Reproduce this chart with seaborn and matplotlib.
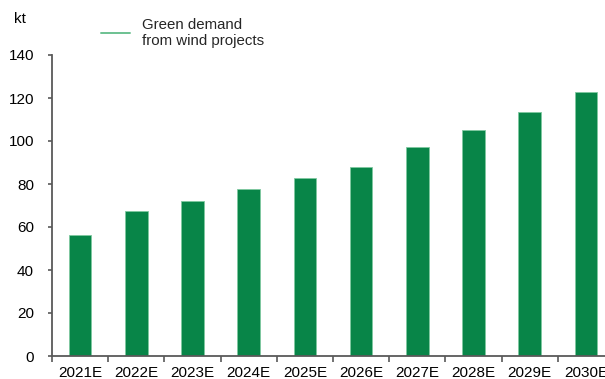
import matplotlib
matplotlib.use("Agg")
import matplotlib.pyplot as plt
from matplotlib.lines import Line2D
from matplotlib.ticker import FixedLocator
import seaborn as sns
import pandas as pd
import numpy as np

# Data
years = ["2021E", "2022E", "2023E", "2024E", "2025E",
         "2026E", "2027E", "2028E", "2029E", "2030E"]
demand_kt = [56.3, 67.4, 72.1, 77.7, 82.9, 88.0, 97.3, 105.2, 113.6, 122.9]
y_ticks = [0, 20, 40, 60, 80, 100, 120, 140]
series_label = "Green demand\nfrom wind projects"
unit_label = "kt"

BAR_GREEN = "#088548"
LINE_GREEN = "#6cc192"
AXIS_GREY = "#595959"

sns.set_theme(style="white")
plt.rcParams["font.family"] = ["Liberation Sans", "DejaVu Sans"]

df = pd.DataFrame({"year": years, "demand": demand_kt})

fig = plt.figure(figsize=(6.05, 3.79), dpi=100)
ax = fig.add_axes([52 / 605, 23 / 379, 562 / 605, 301 / 379])

sns.barplot(data=df, x="year", y="demand", color=BAR_GREEN, width=0.4,
            edgecolor="#7fc9a0", linewidth=0.6, saturation=1, ax=ax)

ax.set_ylim(0, 140)
ax.set_xlim(-0.5, len(years) - 0.5)
ax.set_yticks(y_ticks)
ax.set_yticklabels([str(v) for v in y_ticks])
ax.set_xlabel("")
ax.set_ylabel("")

for side in ("top", "right"):
    ax.spines[side].set_visible(False)
for side in ("left", "bottom"):
    ax.spines[side].set_color(AXIS_GREY)
    ax.spines[side].set_linewidth(1.3)

fs = 11
ax.tick_params(axis="y", which="major", direction="out", length=3,
               width=1.2, color=AXIS_GREY, pad=10, labelsize=fs,
               labelcolor="#000000", left=True)
# category boundary marks on the x axis
ax.xaxis.set_minor_locator(FixedLocator(np.arange(-0.5, len(years), 1.0)))
ax.tick_params(axis="x", which="minor", direction="out", length=4,
               width=1.2, color=AXIS_GREY, bottom=True)
ax.tick_params(axis="x", which="major", length=0, pad=7, labelsize=fs,
               labelcolor="#000000")

fig.text(14 / 605, 1 - 19 / 379, unit_label, fontsize=fs, va="center",
         ha="left", color="#000000")

handle = Line2D([], [], color=LINE_GREEN, linewidth=1.4)
fig.legend([handle], [series_label], loc="upper left",
           bbox_to_anchor=(101 / 605, 1 - 18 / 379), frameon=False,
           fontsize=10.8, handlelength=1.9, handletextpad=0.85,
           borderpad=0, borderaxespad=0, labelspacing=0)

fig.savefig("out.png", dpi=100)
